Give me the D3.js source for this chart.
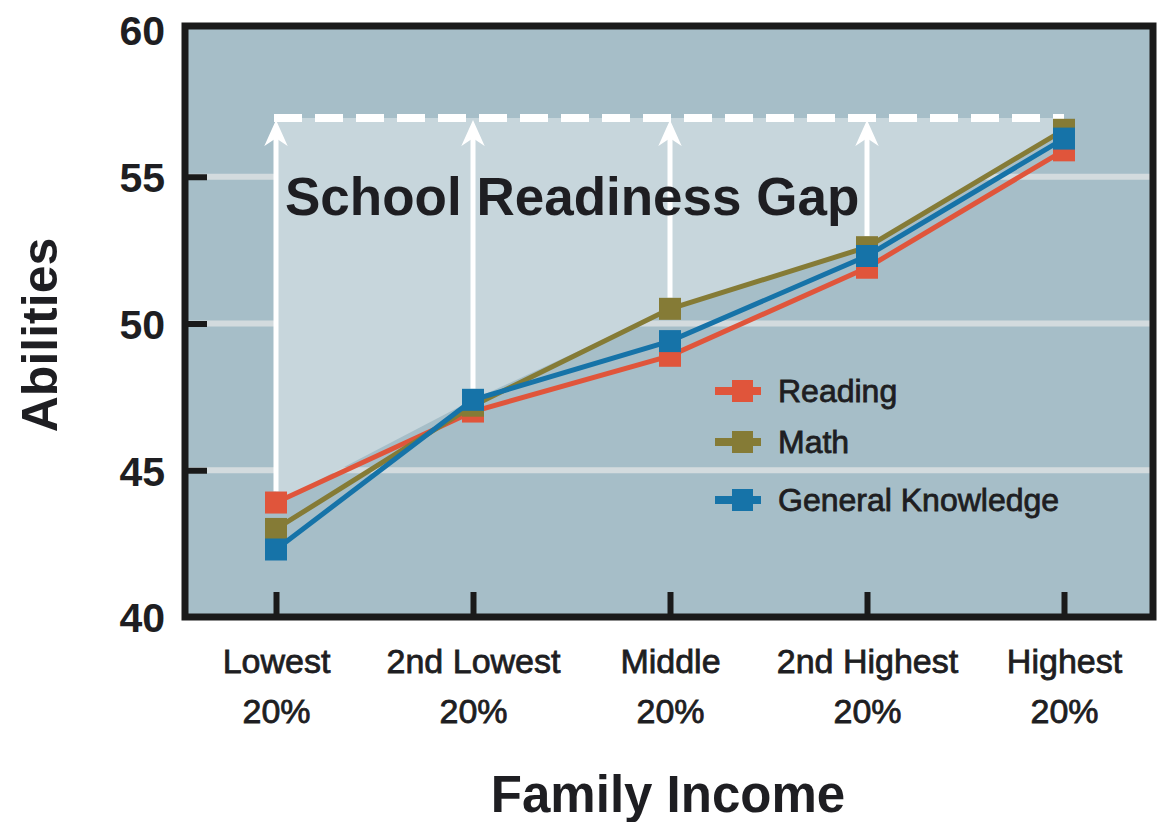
<!DOCTYPE html>
<html>
<head>
<meta charset="utf-8">
<script src="https://cdn.jsdelivr.net/npm/d3@7"></script>
<style>
  body { margin: 0; background: #fff; }
  svg { display: block; }
  text { font-family: "Liberation Sans", Arial, sans-serif; fill: #1e1e22; }
</style>
</head>
<body>
<svg id="chart" width="1157" height="822"></svg>
<script>
// data
const categories = ['Lowest 20%', '2nd Lowest 20%', 'Middle 20%', '2nd Highest 20%', 'Highest 20%'];
const reading = [43.9, 47.0, 48.9, 51.9, 55.9];
const math = [43.0, 47.2, 50.5, 52.6, 56.6];
const generalKnowledge = [42.3, 47.4, 49.4, 52.3, 56.3];
const gapLevel = 57;
const yTicks = [40, 45, 50, 55, 60];
const gridTicks = [45, 50, 55];

const series = [
  { name: 'Reading', values: reading, color: '#e0553b' },
  { name: 'Math', values: math, color: '#857b36' },
  { name: 'General Knowledge', values: generalKnowledge, color: '#1673a8' },
];

const svg = d3.select('#chart');

// plot frame
const frameL = 185, frameR = 1153, frameT = 26, frameB = 617;

const x = d3.scalePoint().domain(categories).range([276, 1064]);
const y = d3.scaleLinear().domain([40, 60]).range([617, 30]);

// panel background
svg.append('rect')
  .attr('x', frameL).attr('y', frameT)
  .attr('width', frameR - frameL).attr('height', frameB - frameT)
  .attr('fill', '#a6bec8');

// grid
svg.append('g').selectAll('line')
  .data(gridTicks)
  .join('line')
  .attr('x1', frameL).attr('x2', frameR)
  .attr('y1', (d) => y(d)).attr('y2', (d) => y(d))
  .attr('stroke', '#d3dbde')
  .attr('stroke-width', 6);

// upper envelope of the three series -> gap area
const top3 = categories.map((c, i) => d3.max(series, (s) => s.values[i]));
const gapArea = d3.area()
  .x((d, i) => x(categories[i]))
  .y0((d) => y(d))
  .y1(y(gapLevel));
svg.append('path')
  .datum(top3)
  .attr('d', gapArea)
  .attr('fill', '#c7d6dc');

// arrows up to the dashed line (all but highest)
svg.append('defs').append('marker')
  .attr('id', 'head')
  .attr('viewBox', '0 0 10 10')
  .attr('refX', 5).attr('refY', 5)
  .attr('markerWidth', 5.2).attr('markerHeight', 5.2)
  .attr('markerUnits', 'strokeWidth')
  .attr('orient', 'auto')
  .append('path')
  .attr('d', 'M0,0.5 L10,5 L0,9.5 L3,5 Z')
  .attr('fill', '#fff');

svg.append('g').selectAll('line')
  .data(top3.slice(0, 4))
  .join('line')
  .attr('x1', (d, i) => x(categories[i]))
  .attr('x2', (d, i) => x(categories[i]))
  .attr('y1', (d) => y(d) - 11)
  .attr('y2', y(gapLevel) + 15)
  .attr('stroke', '#fff')
  .attr('stroke-width', 5)
  .attr('marker-end', 'url(#head)');

// dashed line
svg.append('line')
  .attr('x1', x(categories[0]) - 2).attr('x2', x(categories[4]))
  .attr('y1', y(gapLevel)).attr('y2', y(gapLevel))
  .attr('stroke', '#fff')
  .attr('stroke-width', 8)
  .attr('stroke-dasharray', '28,13');

svg.append('text')
  .attr('x', 285).attr('y', 215)
  .attr('font-size', 53)
  .attr('font-weight', 'bold')
  .text('School Readiness Gap');

// series
const line = d3.line()
  .x((d, i) => x(categories[i]))
  .y((d) => y(d));

series.forEach((s) => {
  const g = svg.append('g');
  g.append('path')
    .datum(s.values)
    .attr('d', line)
    .attr('fill', 'none')
    .attr('stroke', s.color)
    .attr('stroke-width', 5);
  g.selectAll('rect')
    .data(s.values)
    .join('rect')
    .attr('x', (d, i) => x(categories[i]) - 11)
    .attr('y', (d) => y(d) - 11)
    .attr('width', 22).attr('height', 22)
    .attr('fill', s.color);
});

// legend
const legend = svg.append('g');
const legY = [391, 442, 500];
series.forEach((s, i) => {
  const row = legend.append('g').attr('transform', `translate(0,${legY[i]})`);
  row.append('line')
    .attr('x1', 715).attr('x2', 761)
    .attr('stroke', s.color).attr('stroke-width', 8);
  row.append('rect')
    .attr('x', 732).attr('y', -11)
    .attr('width', 21).attr('height', 22)
    .attr('fill', s.color);
  row.append('text')
    .attr('x', 778).attr('y', 11)
    .attr('font-family', '"DejaVu Sans", sans-serif')
    .attr('font-size', 32)
    .attr('stroke', '#1e1e22').attr('stroke-width', 0.8)
    .text(s.name);
});

// y axis
const yAxis = svg.append('g')
  .attr('transform', `translate(${frameL},0)`)
  .call(d3.axisLeft(y).tickValues(yTicks).tickSizeInner(-22).tickSizeOuter(0).tickPadding(20));
yAxis.select('.domain').remove();
yAxis.selectAll('.tick line')
  .attr('stroke', '#1a1a1a')
  .attr('stroke-width', 6)
  .filter((d) => d === 40 || d === 60).remove();
yAxis.selectAll('.tick text')
  .attr('font-size', 41)
  .attr('font-weight', 'bold')
  .attr('font-family', '"Liberation Sans", Arial, sans-serif')
  .attr('fill', '#1e1e22')
  .attr('dy', '0.36em');

// x axis
const xAxis = svg.append('g')
  .attr('transform', `translate(0,${frameB})`)
  .call(d3.axisBottom(x).tickSizeInner(-25).tickSizeOuter(0).tickPadding(0));
xAxis.select('.domain').remove();
xAxis.selectAll('.tick line')
  .attr('stroke', '#1a1a1a')
  .attr('stroke-width', 6);
xAxis.selectAll('.tick text').each(function (d) {
  const t = d3.select(this);
  const parts = d.split(' ');
  const pct = parts.pop();
  t.text(null)
    .attr('y', 0).attr('dy', null)
    .attr('font-size', 34)
    .attr('font-family', '"Liberation Sans", Arial, sans-serif')
    .attr('fill', '#1e1e22')
    .attr('stroke', '#1e1e22').attr('stroke-width', 0.8);
  t.append('tspan').attr('x', 0).attr('y', 56).text(parts.join(' '));
  t.append('tspan').attr('x', 0).attr('y', 106).text(pct);
});

// frame
svg.append('path')
  .attr('d', `M${frameL},${frameT} H${frameR} V${frameB} H${frameL} Z`)
  .attr('fill', 'none')
  .attr('stroke', '#1a1a1a')
  .attr('stroke-width', 7);

// axis titles
svg.append('text')
  .attr('transform', 'translate(57,335) rotate(-90)')
  .attr('text-anchor', 'middle')
  .attr('font-size', 50)
  .attr('font-weight', 'bold')
  .text('Abilities');

svg.append('text')
  .attr('x', 668).attr('y', 812)
  .attr('text-anchor', 'middle')
  .attr('font-size', 51)
  .attr('font-weight', 'bold')
  .text('Family Income');
</script>
</body>
</html>
